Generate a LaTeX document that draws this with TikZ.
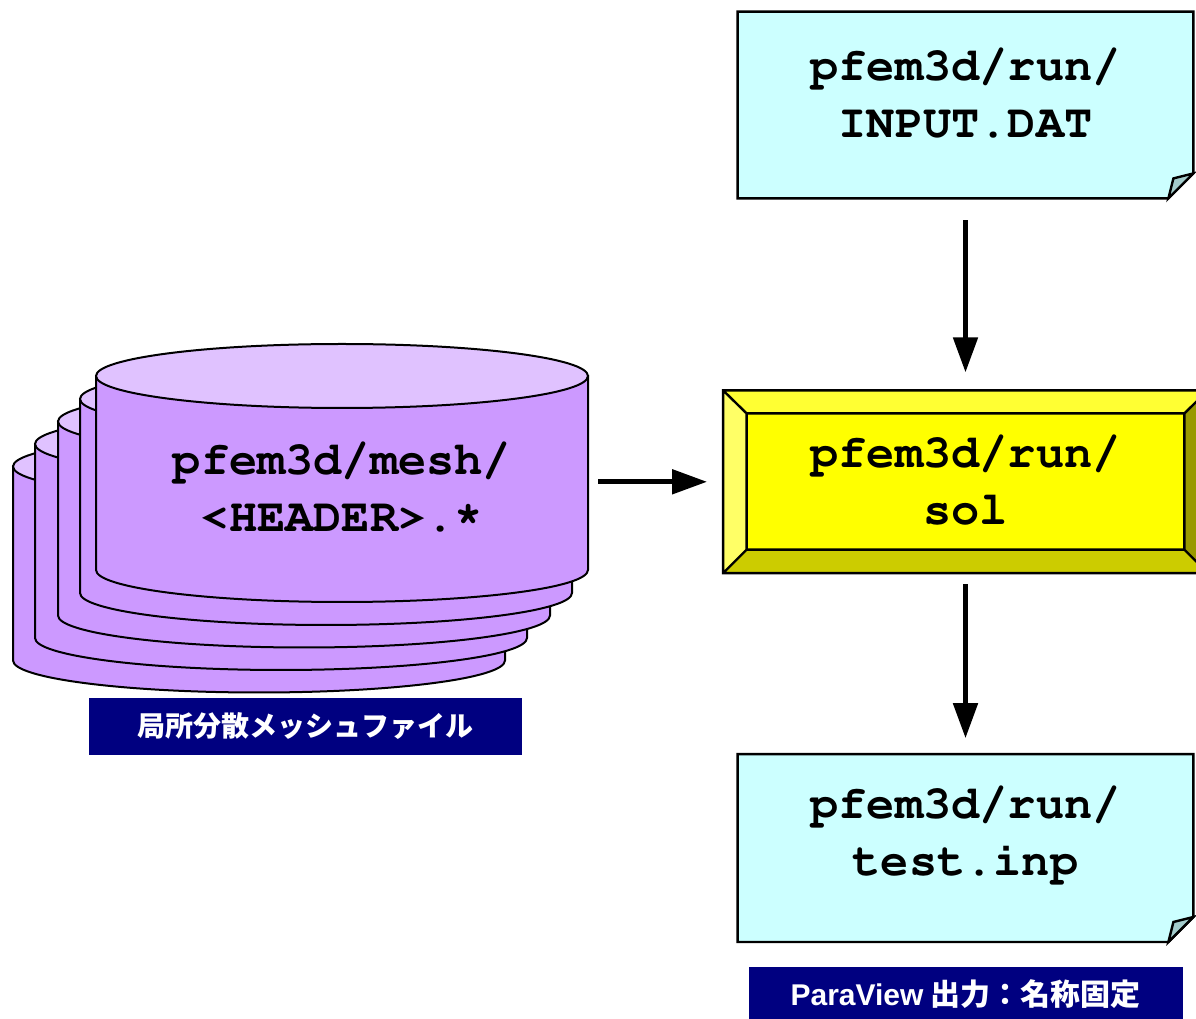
\documentclass[tikz,border=0pt]{standalone}
\usepackage[T1]{fontenc}
\usepackage{fontspec}
\newcommand\codefont{\fontencoding{T1}\fontfamily{pcr}\fontseries{b}\selectfont}
\newfontfamily\jpfont{Noto Sans CJK JP}
\newfontfamily\latinfont{Liberation Sans}
\usetikzlibrary{positioning, arrows.meta, calc, backgrounds}
\definecolor{docfill}{HTML}{CCFFFF}
\definecolor{foldfill}{HTML}{A3CCCC}
\definecolor{cylside}{HTML}{CC99FF}
\definecolor{cyltop}{HTML}{E0C2FF}
\definecolor{tagfill}{HTML}{000080}
\definecolor{solfill}{HTML}{FFFF00}
\definecolor{beveltop}{HTML}{FFFF33}
\definecolor{bevelleft}{HTML}{FFFF66}
\definecolor{bevelbottom}{HTML}{CCCC00}
\definecolor{bevelright}{HTML}{999900}

\begin{document}
\begin{tikzpicture}[x=0.5pt, y=0.5pt,
    code/.style={font=\codefont\fontsize{23.5pt}{28.5pt}\selectfont, align=center},
    docbox/.style={minimum width=227.5pt, minimum height=93pt, inner sep=0pt},
    docline/.style={draw, line width=1.2pt, fill=docfill},
    solbox/.style={code, fill=solfill, minimum width=242pt, minimum height=91pt, inner sep=0pt},
    tag/.style={fill=tagfill, text=white, font=\jpfont\bfseries\fontsize{14pt}{16pt}\selectfont, inner sep=0pt},
    flow/.style={-{Triangle[length=17.5pt, width=12pt]}, line width=2.5pt},
    cyl/.style={draw, line width=1pt}]
    \useasboundingbox (0,0) rectangle (1196,1019);

    % stacked mesh files
    \foreach \dx/\dy in {-83/90.5, -61/68, -38/45.5, -16/23, 0/0} {
        \filldraw[cyl, fill=cylside] (96+\dx, 643-\dy) -- (96+\dx, 449-\dy)
            arc[start angle=180, end angle=360, x radius=123pt, y radius=16pt]
            -- (588+\dx, 643-\dy) -- cycle;
        \filldraw[cyl, fill=cyltop] (342+\dx, 643-\dy) ellipse[x radius=123pt, y radius=16pt];
    }
    \node[code, minimum width=246pt] (mesh) at (342,530) {pfem3d/mesh/\\<HEADER>.\raisebox{3pt}{*}};
    \node[tag, minimum width=216.5pt, minimum height=28.5pt] (meshtag) at (305.5,292.5) {局所分散メッシュファイル};

    % run directory
    \node[docbox, label={[code, yshift=5pt]center:{pfem3d/run/\\INPUT.DAT}}] (input) at (965.5,914) {};
    \node[solbox, below=96pt of input] (sol) {pfem3d/run/\\sol};
    \node[docbox, minimum height=93.5pt, below=90.5pt of sol,
          label={[code, yshift=6.5pt]center:{pfem3d/run/\\test.inp}}] (output) {};
    \node[tag, minimum width=217pt, minimum height=27pt, below=12.5pt of output,
          font=\jpfont\bfseries\fontsize{15pt}{17pt}\selectfont] (paratag)
        {{\latinfont ParaView} 出力：名称固定};

    % folded documents
    \begin{scope}[on background layer]
        \foreach \n in {input, output}
            \path[docline] (\n.north west) -- (\n.north east) -- ([yshift=12.5pt]\n.south east)
                -- ([xshift=-12.5pt]\n.south east) -- (\n.south west) -- cycle;
    \end{scope}
    \foreach \n in {input, output}
        \filldraw[line width=1.2pt, fill=foldfill] ([xshift=-12.5pt]\n.south east)
            -- ([xshift=-10pt, yshift=10pt]\n.south east) -- ([yshift=12.5pt]\n.south east) -- cycle;

    % bevel of sol
    \coordinate (sa) at ([shift={(11.75pt,-11.5pt)}]sol.north west);
    \coordinate (sb) at ([shift={(-11.75pt,-11.5pt)}]sol.north east);
    \coordinate (sc) at ([shift={(-11.75pt,11.75pt)}]sol.south east);
    \coordinate (sd) at ([shift={(11.75pt,11.75pt)}]sol.south west);
    \fill[beveltop] (sol.north west) -- (sol.north east) -- (sb) -- (sa) -- cycle;
    \fill[bevelleft] (sol.north west) -- (sa) -- (sd) -- (sol.south west) -- cycle;
    \fill[bevelbottom] (sol.south west) -- (sd) -- (sc) -- (sol.south east) -- cycle;
    \fill[bevelright] (sol.north east) -- (sb) -- (sc) -- (sol.south east) -- cycle;
    \draw[line width=1.2pt] (sa) -- (sb) -- (sc) -- (sd) -- cycle
        (sol.north west) -- (sa) (sol.north east) -- (sb)
        (sol.south east) -- (sc) (sol.south west) -- (sd)
        (sol.north west) rectangle (sol.south east);

    % flow
    \draw[flow, shorten <=11pt, shorten >=9pt] (input) -- (sol);
    \draw[flow, shorten <=5.5pt, shorten >=8pt] (sol) -- (output);
    \draw[flow, shorten <=5pt, shorten >=8pt] (mesh.east |- sol.west) -- (sol.west);
\end{tikzpicture}
\end{document}
